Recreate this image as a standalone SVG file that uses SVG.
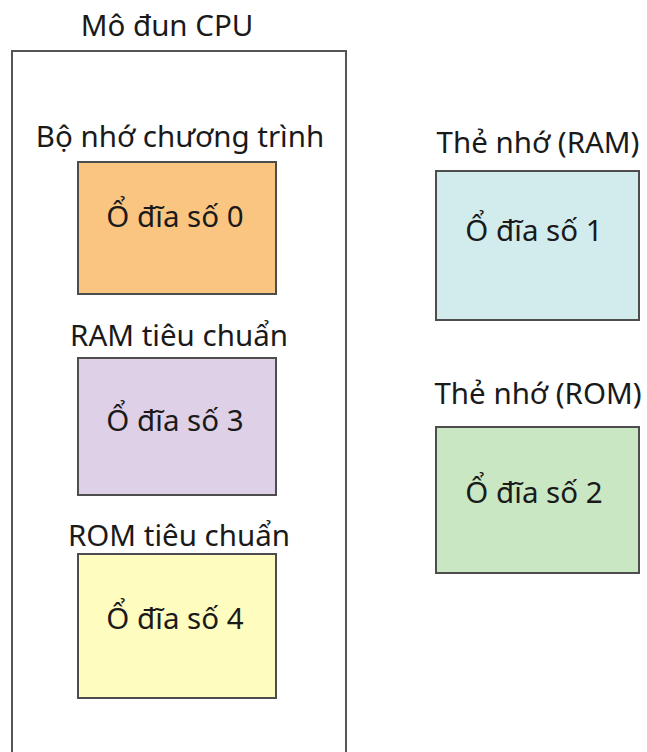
<svg xmlns="http://www.w3.org/2000/svg" width="647" height="752" viewBox="0 0 647 752">
<style>
text{font-family:"Noto Sans","Open Sans","DejaVu Sans",sans-serif;font-size:29.5px;fill:#1a1a1a;text-anchor:middle}
.box{stroke:#4d4d4d;stroke-width:2}
</style>
<rect width="647" height="752" fill="#ffffff"/>
<g id="cpu">
<text x="167" y="36">Mô đun CPU</text>
<path d="M12 760 V51 H346 V760" fill="none" stroke="#555" stroke-width="2"/>
</g>
<g id="drive0">
<text x="180" y="147">Bộ nhớ chương trình</text>
<rect class="box" x="78" y="162" width="198" height="132" fill="#FAC580"/>
<text x="175" y="227">Ổ đĩa số 0</text>
</g>
<g id="drive3">
<text x="179" y="346">RAM tiêu chuẩn</text>
<rect class="box" x="78" y="358" width="198" height="137" fill="#DED0E6"/>
<text x="175" y="431">Ổ đĩa số 3</text>
</g>
<g id="drive4">
<text x="179" y="546">ROM tiêu chuẩn</text>
<rect class="box" x="78" y="554" width="198" height="144" fill="#FFFCC0"/>
<text x="175" y="629">Ổ đĩa số 4</text>
</g>
<g id="drive1">
<text x="538" y="153">Thẻ nhớ (RAM)</text>
<rect class="box" x="436" y="171" width="203" height="149" fill="#D2ECEE"/>
<text x="534" y="241">Ổ đĩa số 1</text>
</g>
<g id="drive2">
<text x="538" y="404">Thẻ nhớ (ROM)</text>
<rect class="box" x="436" y="427" width="203" height="146" fill="#C9E7C3"/>
<text x="534" y="503">Ổ đĩa số 2</text>
</g>
<g id="connectors"></g>
</svg>
